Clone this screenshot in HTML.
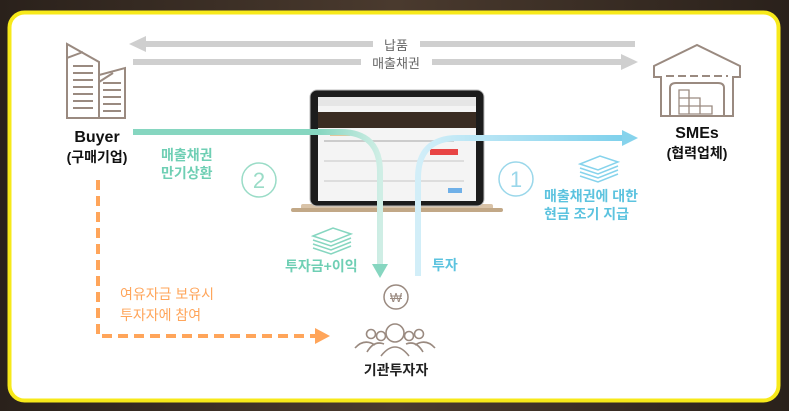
<!DOCTYPE html>
<html><head><meta charset="utf-8"><style>
html,body{margin:0;padding:0;width:789px;height:411px;overflow:hidden;background:#3b2e25;}
svg{display:block}
text{font-family:"Liberation Sans","Noto Sans CJK KR",sans-serif}
</style></head><body>
<svg width="789" height="411" viewBox="0 0 789 411">
<defs>
<linearGradient id="bg" x1="0" x2="1"><stop offset="0" stop-color="#2a211b"/><stop offset=".5" stop-color="#4a3a2e"/><stop offset="1" stop-color="#2a211b"/></linearGradient>
<linearGradient id="gr" x1="0" x2="1"><stop offset="0" stop-color="#86d6c0"/><stop offset="0.75" stop-color="#86d6c0"/><stop offset="1" stop-color="#cfeee5"/></linearGradient>
<linearGradient id="bl" x1="0" x2="1"><stop offset="0" stop-color="#d2eef8"/><stop offset="1" stop-color="#7fd1ec"/></linearGradient>
</defs>
<rect width="789" height="411" fill="url(#bg)"/>
<rect x="9.5" y="12.5" width="769" height="388" rx="15" fill="#fff" stroke="#f7e91a" stroke-width="4"/>

<rect x="145" y="41" width="228" height="6" fill="#cfcfcf"/>
<polygon points="129,44 146,36 146,52" fill="#cfcfcf"/>
<rect x="420" y="41" width="215" height="6" fill="#cfcfcf"/>
<rect x="133" y="59" width="228" height="6" fill="#cfcfcf"/>
<rect x="432" y="59" width="190" height="6" fill="#cfcfcf"/>
<polygon points="638,62 621,54 621,70" fill="#cfcfcf"/>
<text x="396" y="50" font-size="13" fill="#666" text-anchor="middle">납품</text>
<text x="396" y="68" font-size="13" fill="#666" text-anchor="middle">매출채권</text>

<g fill="none" stroke="#9a8a80" stroke-width="2">
<path d="M67,118 V44 L99,62 V118 Z"/>
<path d="M67,118 V58 L83,52"/>
<path d="M99,118 V75 L125,68 V118 Z"/>
<path d="M99,82 L113,73"/>
<path d="M73,66h20M73,73h20M73,80h20M73,87h20M73,94h20M73,101h20M73,108h20"/>
<path d="M103,83h18M103,90h18M103,97h18M103,104h18M103,111h18"/>
</g>
<text x="97" y="142" font-size="16" font-weight="bold" fill="#111" text-anchor="middle">Buyer</text>
<text x="97" y="162" font-size="14" font-weight="bold" fill="#111" text-anchor="middle">(구매기업)</text>

<g fill="none" stroke="#9a8a80" stroke-width="2">
<path d="M654,77 V66 L697,45 L740,66 V77 H733 V116 H661 V77 Z"/>
<path d="M666,76h62" stroke-dasharray="8,4"/>
<path d="M670,116 V88 Q670,83 676,83 H718 Q724,83 724,88 V116"/>
<path d="M679,114 V90 H689 V98 H700 V106 H712 V114 Z M679,98h10M679,106h22M689,98v16M700,106v8" stroke-width="1.3"/>
</g>
<text x="697" y="138" font-size="16" font-weight="bold" fill="#111" text-anchor="middle">SMEs</text>
<text x="697" y="158" font-size="14" font-weight="bold" fill="#111" text-anchor="middle">(협력업체)</text>

<rect x="301" y="204" width="192" height="6" rx="2" fill="#d9c3a8"/>
<rect x="291" y="208" width="212" height="4" rx="2" fill="#c2a887"/>
<rect x="310" y="90" width="174" height="116" rx="7" fill="#1c1c1c" stroke="#bbb" stroke-width="1"/>
<rect x="318" y="97" width="158" height="104" fill="#f4f4f4"/>
<rect x="318" y="97" width="158" height="9" fill="#e6e6e6"/>
<rect x="318" y="112" width="158" height="16" fill="#3a2c22"/>
<rect x="330" y="131" width="20" height="5" fill="#e3c79c"/>
<rect x="430" y="149" width="28" height="6" fill="#e84545"/>
<rect x="324" y="140" width="130" height="2" fill="#ccc"/>
<rect x="324" y="160" width="140" height="2" fill="#ddd"/>
<rect x="324" y="180" width="140" height="2" fill="#ddd"/>
<rect x="448" y="188" width="14" height="5" fill="#6fb0e8"/>

<path d="M133,132 H340 Q380,132 380,172 V265" fill="none" stroke="url(#gr)" stroke-width="6"/>
<polygon points="380,278 372,264 388,264" fill="#86d6c0"/>
<path d="M418,276 V178 Q418,138 458,138 H622" fill="none" stroke="url(#bl)" stroke-width="6"/>
<polygon points="638,138 622,130 622,146" fill="#86d3ec"/>

<circle cx="259" cy="180" r="17" fill="none" stroke="#9adcc7" stroke-width="1.5"/>
<text x="259" y="188" font-size="22" fill="#9adcc7" text-anchor="middle">2</text>
<circle cx="516" cy="179" r="17" fill="none" stroke="#9ad7ea" stroke-width="1.5"/>
<text x="516" y="187" font-size="22" fill="#9ad7ea" text-anchor="middle">1</text>

<text x="161" y="160" font-size="14" font-weight="bold" fill="#6fcfb4">매출채권</text>
<text x="161" y="178" font-size="14" font-weight="bold" fill="#6fcfb4">만기상환</text>
<text x="544" y="201" font-size="14" font-weight="bold" fill="#5cc3df">매출채권에 대한</text>
<text x="544" y="219" font-size="14" font-weight="bold" fill="#5cc3df">현금 조기 지급</text>
<text x="285" y="271" font-size="14" font-weight="bold" fill="#6fcfb4">투자금+이익</text>
<text x="432" y="270" font-size="14" font-weight="bold" fill="#5cc3df">투자</text>

<g fill="none" stroke="#86d6c0" stroke-width="1.5">
<path d="M313,236 l20,-8 l18,6 l-20,8 z M313,240 l18,6 l20,-8 M313,244 l18,6 l20,-8 M313,248 l18,6 l20,-8"/>
</g>
<g fill="none" stroke="#86d3ec" stroke-width="1.5">
<path d="M580,164 l20,-8 l18,6 l-20,8 z M580,168 l18,6 l20,-8 M580,172 l18,6 l20,-8 M580,176 l18,6 l20,-8"/>
</g>

<path d="M98,180 V336 H316" fill="none" stroke="#ffa55a" stroke-width="4" stroke-dasharray="10,6"/>
<polygon points="330,336 315,328 315,344" fill="#ffa55a"/>
<text x="120" y="299" font-size="14" fill="#ffa55a">여유자금 보유시</text>
<text x="120" y="320" font-size="14" fill="#ffa55a">투자자에 참여</text>

<circle cx="396" cy="297" r="12" fill="none" stroke="#9a8a80" stroke-width="1.5"/>
<text x="396" y="302" font-size="13" fill="#9a8a80" text-anchor="middle">₩</text>
<g fill="none" stroke="#9a8a80" stroke-width="1.6">
<circle cx="395" cy="333" r="9"/>
<circle cx="371" cy="334" r="4.5"/><circle cx="381" cy="336" r="4.5"/>
<circle cx="409" cy="336" r="4.5"/><circle cx="419" cy="334" r="4.5"/>
<path d="M381,356 Q395,338 409,356"/>
<path d="M355,348 Q364,338 375,345"/><path d="M415,345 Q426,338 435,348"/>
<path d="M367,352 Q374,340 384,344"/><path d="M406,344 Q416,340 423,352"/>
</g>
<text x="396" y="375" font-size="14" font-weight="bold" fill="#222" text-anchor="middle">기관투자자</text>
</svg>
</body></html>
